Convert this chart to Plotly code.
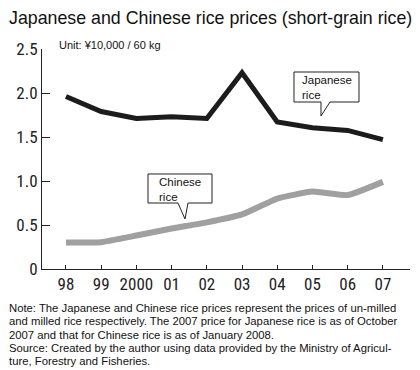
import plotly.graph_objects as go

years = [1998, 1999, 2000, 2001, 2002, 2003, 2004, 2005, 2006, 2007]
tick_labels = ["98", "99", "2000", "01", "02", "03", "04", "05", "06", "07"]
japanese = [1.96, 1.79, 1.71, 1.73, 1.71, 2.23, 1.67, 1.605, 1.575, 1.47]
chinese = [0.30, 0.305, 0.38, 0.46, 0.53, 0.62, 0.80, 0.88, 0.84, 0.99]
y_ticks = [0, 0.5, 1.0, 1.5, 2.0, 2.5]
y_tick_labels = ["0", "0.5", "1.0", "1.5", "2.0", "2.5"]
note_lines = [
    "Note: The Japanese and Chinese rice prices represent the prices of un-milled",
    "and milled rice respectively. The 2007 price for Japanese rice is as of October",
    "2007 and that for Chinese rice is as of January 2008.",
    "Source: Created by the author using data provided by the Ministry of Agricul-",
    "ture, Forestry and Fisheries.",
]

W, H = 420, 370
L, R, T, B = 42, 10, 49, 101
PW, PH = W - L - R, H - T - B


def px(x):
    return (x - L) / PW


def py(y):
    return (H - B - y) / PH


narrow = "Liberation Sans Narrow, Arial Narrow, Roboto Condensed, DejaVu Sans Condensed, Liberation Sans"
sans = "Liberation Sans, Arial, sans-serif"

fig = go.Figure()
fig.add_trace(go.Scatter(x=years, y=chinese, mode="lines",
                         line=dict(color="#a0a0a0", width=6, shape="spline", smoothing=0.4),
                         showlegend=False, hoverinfo="skip"))
fig.add_trace(go.Scatter(x=years, y=japanese, mode="lines",
                         line=dict(color="#1c1c1c", width=5),
                         showlegend=False, hoverinfo="skip"))


def bubble(x0, x1, y0, y1, b0, b1, tx, ty):
    pts = [(x0, y0), (x1, y0), (x1, y1), (b1, y1), (tx, ty), (b0, y1), (x0, y1)]
    path = "M " + " L ".join(f"{px(a):.5f},{py(b):.5f}" for a, b in pts) + " Z"
    fig.add_shape(type="path", path=path, xref="paper", yref="paper",
                  line=dict(color="#222", width=1), fillcolor="white", layer="above")


bubble(294, 359, 72, 102, 321, 330, 321, 116)
bubble(148, 212, 174, 203, 178, 188, 185, 219)

annos = [
    dict(text="Japanese<br>rice", x=px(300), y=py(87), xanchor="left", yanchor="middle",
         font=dict(size=11.5, family=sans, color="#111"), align="left"),
    dict(text="Chinese<br>rice", x=px(157), y=py(189), xanchor="left", yanchor="middle",
         font=dict(size=11.5, family=sans, color="#111"), align="left"),
    dict(text="Unit: ¥10,000 / 60 kg", x=px(57), y=py(45), xanchor="left", yanchor="middle",
         font=dict(size=11, family=sans, color="#111")),
    dict(text="Japanese and Chinese rice prices (short-grain rice)", x=px(7), y=py(18),
         xanchor="left", yanchor="middle", font=dict(size=17.8, family=sans, color="#111")),
]
for i, line in enumerate(note_lines):
    annos.append(dict(text=line, x=px(7), y=py(308 + 13.35 * i), xanchor="left", yanchor="middle",
                      font=dict(size=11.3, family=sans, color="#111")))
for a in annos:
    a.update(xref="paper", yref="paper", showarrow=False)
    fig.add_annotation(**a)

fig.update_layout(
    width=W, height=H, margin=dict(l=L, r=R, t=T, b=B, autoexpand=False),
    paper_bgcolor="white", plot_bgcolor="white",
    xaxis=dict(range=[1997.32, 2007.77], tickvals=years, ticktext=tick_labels, automargin=False,
               ticks="inside", ticklen=4, tickcolor="#222", showline=True, linecolor="#222",
               linewidth=1, showgrid=False, zeroline=False,
               tickfont=dict(family=narrow, size=17, color="#222")),
    yaxis=dict(range=[0, 2.5], tickvals=y_ticks, ticktext=y_tick_labels, automargin=False,
               ticks="inside", ticklen=8, tickcolor="#222", showline=True, linecolor="#222",
               linewidth=1, showgrid=False, zeroline=False,
               tickfont=dict(family=narrow, size=17, color="#222")),
)

fig.write_html("out.html", config={"displayModeBar": False},
               post_script="document.body.style.margin='0';document.body.style.overflow='hidden';")
